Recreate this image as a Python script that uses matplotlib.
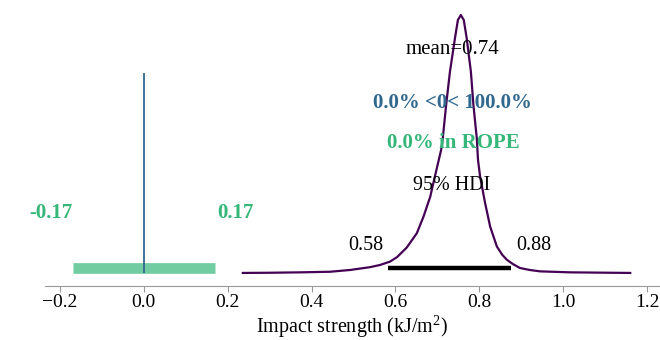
import matplotlib
matplotlib.use("Agg")
import matplotlib.pyplot as plt

plt.rcParams['font.family'] = ['Liberation Serif', 'DejaVu Serif']
plt.rcParams['mathtext.fontset'] = 'custom'
plt.rcParams['mathtext.rm'] = 'Liberation Serif'

# posterior density (arbitrary density units)
grid = [0.236, 0.300, 0.372, 0.444, 0.492, 0.539, 0.563, 0.587, 0.604, 0.627,
        0.651, 0.667, 0.683, 0.694, 0.709, 0.713, 0.721, 0.730, 0.742, 0.749,
        0.756, 0.763, 0.770, 0.780, 0.786, 0.794, 0.797, 0.802, 0.814, 0.826,
        0.842, 0.855, 0.866, 0.880, 0.897, 0.920, 0.945, 1.017, 1.160]
density = [0.0, 0.01, 0.03, 0.06, 0.15, 0.29, 0.40, 0.57, 0.80, 1.28,
           2.00, 2.84, 3.84, 4.85, 6.20, 6.80, 8.47, 10.14, 11.83, 12.75,
           13.0, 12.75, 11.83, 10.14, 8.47, 6.80, 5.69, 4.85, 3.51, 2.33,
           1.33, 0.91, 0.66, 0.45, 0.25, 0.15, 0.08, 0.03, 0.0]

mean_val = 0.74
hdi = [0.583, 0.875]
hdi_labels = ['0.58', '0.88']
rope = [-0.17, 0.17]
ref_val = 0.0
pct_below, pct_above = 0.0, 100.0
pct_rope = 0.0

purple = '#440154'
blue = '#31688e'
green = '#35b779'

fig = plt.figure(figsize=(6.6, 3.4), dpi=100)
ax = fig.add_axes([0.068, 0.159, 0.932, 0.826])

ax.plot(grid, density, color=purple, lw=1.6)

# HDI bar and labels
ax.plot(hdi, [0.27, 0.27], color='k', lw=3.2, solid_capstyle='butt')
ax.text(hdi[0] - 0.012, 1.36, hdi_labels[0], ha='right', va='center', fontsize=14.5)
ax.text(hdi[1] + 0.012, 1.36, hdi_labels[1], ha='left', va='center', fontsize=14.5)
ax.text(0.733, 4.43, '95% HDI', ha='center', va='center', fontsize=14.5)

# rope
ax.plot(rope, [0.25, 0.25], color=green, alpha=0.7, lw=7.7, solid_capstyle='butt', zorder=0)
ax.text(rope[0], 3.02, '{:.2f}'.format(rope[0]), ha='right', va='center',
        color=green, fontsize=15, weight='bold')
ax.text(rope[1] + 0.005, 3.02, '{:.2f}'.format(rope[1]), ha='left', va='center',
        color=green, fontsize=15, weight='bold')
ax.text(0.737, 6.55, '{:.1f}% in ROPE'.format(pct_rope), ha='center',
        va='center', color=green, fontsize=15, weight='bold')

# reference value
ax.vlines(ref_val, 0, 10.1, color=blue, lw=1.3)
ax.text(0.737, 8.56, '{:.1f}% <{:g}< {:.1f}%'.format(pct_below, ref_val, pct_above),
        ha='center', va='center', color=blue, fontsize=15, weight='bold')

# point estimate
ax.text(0.735, 11.28, 'mean={:.2f}'.format(mean_val), ha='center', va='center', fontsize=15)

ax.set_xlim(-0.236, 1.231)
ax.set_ylim(-0.655, 13.5)
ax.set_yticks([])
for s in ['left', 'right', 'top']:
    ax.spines[s].set_visible(False)
ax.spines['bottom'].set_color('#999999')
ax.tick_params(axis='x', labelsize=14, color='#999999', length=4, pad=2)
ax.set_xlabel('Impact strength (kJ/m$^2$)', fontsize=14.5, labelpad=1)

fig.savefig('out.png', dpi=100)
